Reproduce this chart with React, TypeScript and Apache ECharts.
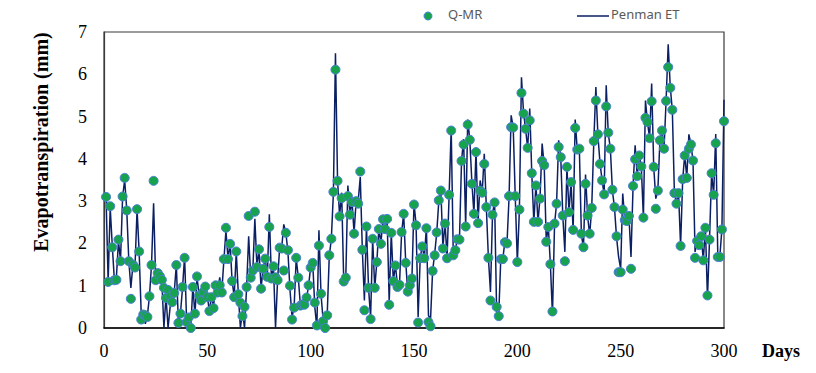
import React, { useEffect, useRef } from "react";
import * as echarts from "echarts";

const xTicks = [0, 50, 100, 150, 200, 250, 300];
const yTicks = [0, 1, 2, 3, 4, 5, 6, 7];

const qmr: number[] = [
  3.10,1.09,2.88,1.91,1.13,1.14,2.09,1.58,3.11,3.55,
  2.78,1.58,0.69,1.50,1.43,2.81,1.81,0.20,0.32,0.30,
  0.26,0.75,1.49,3.48,1.13,1.30,1.23,1.14,0.95,0.71,
  0.90,0.75,0.61,0.83,1.49,0.12,0.34,0.97,1.66,0.14,
  0.25,0.00,0.97,0.34,1.22,0.77,0.65,0.85,0.98,0.73,
  0.40,0.73,0.47,1.01,0.84,1.01,0.84,1.63,2.37,1.63,
  1.99,1.11,0.73,1.81,0.80,0.60,0.28,0.50,0.97,2.65,
  1.19,1.36,2.75,1.44,1.86,0.93,1.40,1.64,1.21,2.39,
  1.17,1.46,1.20,1.13,1.90,1.88,1.36,2.25,1.84,1.00,
  0.20,0.48,1.66,1.19,0.53,0.56,0.55,0.72,1.01,1.43,
  1.54,0.60,0.06,1.95,0.81,0.16,0.00,0.30,1.72,2.11,
  3.22,6.11,3.48,2.64,3.07,1.10,1.19,3.12,2.68,2.98,
  2.23,3.00,2.94,3.70,1.85,0.42,2.40,0.95,0.21,2.11,
  0.95,1.56,2.34,1.99,2.57,2.34,2.58,0.55,2.25,1.11,
  1.48,0.97,1.02,2.27,2.70,1.54,0.86,1.01,1.17,2.92,
  2.43,0.13,1.65,1.93,1.65,2.36,0.14,0.04,1.35,1.72,
  2.26,3.02,3.25,1.88,2.47,1.65,3.15,4.67,1.72,1.84,
  2.10,2.09,3.95,4.34,2.40,4.81,4.45,3.41,2.70,4.16,
  2.48,3.25,3.20,3.88,2.86,1.66,0.65,2.68,2.97,0.50,
  0.28,1.63,1.63,2.03,2.00,3.12,4.75,4.74,3.12,1.56,
  2.80,5.56,5.07,4.71,4.26,4.91,3.66,2.51,3.37,2.51,
  3.06,3.95,3.85,2.04,2.39,1.51,0.39,2.47,2.94,4.28,
  4.04,2.66,1.58,3.81,2.74,3.45,2.32,4.73,4.22,4.24,
  2.23,1.91,3.41,2.66,2.23,2.84,4.42,5.38,4.58,3.88,
  3.49,3.16,5.24,4.62,4.24,3.27,2.86,2.17,1.32,1.32,
  2.80,2.55,2.53,2.65,1.40,3.36,3.99,3.59,4.08,3.82,
  2.61,4.97,4.87,4.49,5.36,3.81,2.82,3.25,4.44,4.67,
  4.24,5.37,6.17,5.68,5.16,3.19,2.94,3.19,1.94,3.52,
  4.08,3.55,4.24,4.34,3.96,1.66,2.06,1.96,2.17,1.60,
  2.37,0.77,2.09,3.66,3.15,4.37,1.68,1.68,2.33,4.89,
];

const penman: number[] = [
  3.10,1.10,2.85,1.95,1.15,1.20,2.05,1.60,3.10,3.50,
  2.80,1.60,0.95,1.50,1.45,2.80,1.80,0.35,0.40,0.10,
  0.30,0.75,1.50,2.95,1.15,1.30,1.25,1.10,0.00,0.75,
  0.00,0.50,0.60,0.85,1.50,0.10,0.35,0.95,1.70,0.10,
  0.00,0.00,1.00,0.30,1.20,0.80,0.70,0.90,1.00,0.75,
  0.40,0.75,0.50,1.05,0.85,1.20,0.85,1.60,2.30,1.65,
  2.00,1.10,0.75,1.80,0.80,0.00,0.40,0.00,0.95,2.17,
  1.20,1.35,2.58,1.45,1.85,0.95,1.40,1.65,1.20,2.69,
  1.20,1.45,0.00,1.15,1.90,1.90,2.45,2.25,1.80,0.90,
  0.25,0.50,1.65,1.20,0.55,0.55,0.55,0.70,1.00,1.45,
  1.55,0.50,0.00,2.31,0.80,0.20,0.15,0.30,1.70,2.10,
  3.20,6.50,3.50,2.65,3.20,1.10,1.20,3.37,2.70,3.00,
  2.25,3.00,3.00,3.57,1.85,0.65,2.40,0.95,0.25,2.10,
  0.95,1.55,2.35,2.00,2.60,2.35,2.60,0.60,2.25,1.10,
  1.50,1.00,1.05,2.25,2.70,1.55,0.85,1.00,1.15,2.95,
  2.45,0.26,1.65,1.95,1.65,2.40,0.30,0.20,1.35,1.75,
  2.25,3.00,3.25,1.90,2.50,1.65,3.15,4.71,1.75,1.85,
  2.10,2.10,3.95,4.47,2.40,4.93,4.45,3.45,2.70,4.20,
  2.50,3.49,3.20,4.12,2.85,1.66,0.85,2.70,3.00,0.34,
  0.30,1.65,1.65,2.05,2.00,3.10,5.03,4.75,3.10,1.55,
  2.80,5.93,5.10,4.70,4.25,5.19,3.65,2.50,3.40,2.50,
  3.10,4.36,3.85,2.05,2.40,1.50,0.30,2.45,2.95,4.44,
  4.05,2.65,1.80,3.80,2.75,3.45,2.30,4.93,4.20,4.25,
  2.20,1.90,3.63,2.65,2.20,2.85,4.40,5.70,4.55,3.90,
  3.50,3.15,5.74,4.60,4.25,3.25,2.85,2.15,1.68,1.40,
  3.18,2.55,2.55,2.65,1.68,3.35,4.32,3.60,4.10,3.80,
  2.60,5.38,4.85,4.50,5.78,3.80,3.06,3.25,4.45,4.65,
  4.25,5.40,6.71,5.70,5.15,3.20,2.95,3.20,1.94,3.50,
  4.10,3.55,4.58,4.35,3.95,1.80,2.05,1.95,2.15,1.60,
  2.40,0.69,2.10,3.65,3.15,4.59,1.70,1.70,2.35,5.40,
];

const LINE_COLOR = "#0b1f63";
const DOT_COLOR = "#17a24e";
const DOT_BORDER = "#4a7fd4";
const SERIF = "'Liberation Serif', 'Times New Roman', serif";

export default function App() {
  const ref = useRef<HTMLDivElement>(null);
  useEffect(() => {
    if (!ref.current) return;
    const chart = echarts.init(ref.current, null, { renderer: "svg" });
    const lineData = penman.map((v, i) => [i + 1, v]);
    const dotData = qmr.map((v, i) => [i + 1, v]);
    chart.setOption({
      animation: false,
      backgroundColor: "#ffffff",
      grid: {
        left: 104, top: 32, width: 620, height: 296,
        show: true, borderColor: "#3a3a3a", borderWidth: 1.2, backgroundColor: "transparent",
      },
      xAxis: {
        type: "value", min: 0, max: 300, interval: 50,
        axisLine: { show: true, lineStyle: { color: "#000", width: 1.5 } },
        axisTick: { show: false },
        splitLine: { show: false },
        axisLabel: {
          margin: 14, color: "#000", fontFamily: SERIF, fontSize: 18,
          formatter: (v: number) => (xTicks.includes(v) ? String(v) : ""),
        },
      },
      yAxis: {
        type: "value", min: 0, max: 7, interval: 1,
        axisLine: { show: true, lineStyle: { color: "#3a3a3a", width: 1.2 } },
        axisTick: { show: false },
        splitLine: { show: false },
        axisLabel: {
          margin: 17, color: "#000", fontFamily: SERIF, fontSize: 18,
          formatter: (v: number) => (yTicks.includes(v) ? String(v) : ""),
        },
      },
      graphic: [
        {
          type: "text", x: 41, y: 142, rotation: Math.PI / 2,
          style: {
            text: "Evapotranspiration (mm)", fill: "#000", font: `bold 20px ${SERIF}`,
            textAlign: "center", textVerticalAlign: "middle",
          },
        },
        { type: "text", left: 762, top: 342, style: { text: "Days", fill: "#000", font: `bold 18px ${SERIF}` } },
        { type: "circle", shape: { cx: 428, cy: 16, r: 4 }, style: { fill: DOT_COLOR, stroke: DOT_BORDER, lineWidth: 1 } },
        { type: "text", left: 448, top: 7, style: { text: "Q-MR", fill: "#595959", font: "13px 'Noto Sans', sans-serif" } },
        { type: "line", shape: { x1: 577, y1: 16, x2: 609, y2: 16 }, style: { stroke: LINE_COLOR, lineWidth: 1.5 } },
        { type: "text", left: 611, top: 7, style: { text: "Penman ET", fill: "#595959", font: "13px 'Noto Sans', sans-serif" } },
      ],
      series: [
        {
          name: "Penman ET", type: "line", data: lineData, showSymbol: false, symbol: "none",
          lineStyle: { color: LINE_COLOR, width: 1.5 }, z: 2,
        },
        {
          name: "Q-MR", type: "scatter", data: dotData, symbol: "circle", symbolSize: 9,
          itemStyle: { color: DOT_COLOR, borderColor: DOT_BORDER, borderWidth: 1, opacity: 1 }, z: 3,
        },
      ],
    });
    return () => chart.dispose();
  }, []);
  return <div ref={ref} style={{ position: "absolute", left: 0, top: 0, width: 816, height: 373 }} />;
}
